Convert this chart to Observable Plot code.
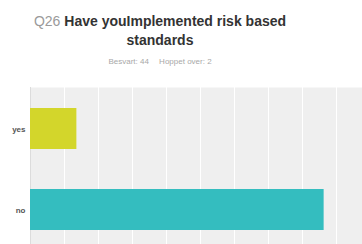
<!DOCTYPE html>
<html>
<head>
<meta charset="utf-8">
<script src="https://cdn.jsdelivr.net/npm/d3@7"></script>
<script src="https://cdn.jsdelivr.net/npm/@observablehq/plot@0.6"></script>
<style>
  html, body { margin: 0; padding: 0; background: #fff; overflow: hidden; width: 362px; height: 244px; }
  #wrap { position: relative; width: 362px; height: 244px; overflow: hidden; font-family: "Liberation Sans", Arial, sans-serif; }
  #title { position: absolute; left: 0; top: 12px; width: 320px; text-align: center; font-size: 14px; line-height: 19px; font-weight: bold; color: #333; }
  #title .q { color: #9a9a9a; font-weight: normal; }
  #sub { position: absolute; left: 0; top: 57px; width: 320px; text-align: center; font-size: 8px; color: #a8a8a8; }
  #sub span { margin: 0 4px; }
  #chart { position: absolute; left: 0; top: 80px; width: 370px; }
  #chart svg { max-width: none !important; }
</style>
</head>
<body>
<div id="wrap">
  <div id="title"><span class="q">Q26</span> Have youImplemented risk based<br>standards</div>
  <div id="sub"><span>Besvart: 44</span> <span>Hoppet over: 2</span></div>
  <div id="chart"></div>
</div>
<script>
const categories = ["yes", "no"];
const percents = [13.64, 86.36];
const colors = ["#d3d62b", "#34bdbf"];
const gridTicks = [0, 10, 20, 30, 40, 50, 60, 70, 80, 90, 100];

const data = categories.map((c, i) => ({answer: c, pct: percents[i], color: colors[i]}));

const chart = Plot.plot({
  width: 370,
  height: 170,
  marginTop: 7,
  marginBottom: 0,
  marginLeft: 30,
  marginRight: 0,
  style: {fontFamily: "Liberation Sans, Arial, sans-serif", background: "transparent", overflow: "visible", maxWidth: "none"},
  x: {domain: [0, 100], axis: null},
  y: {domain: categories, paddingInner: 0.5, paddingOuter: 0.25, label: null},
  marks: [
    Plot.frame({fill: "#efefef", stroke: null}),
    Plot.ruleX(gridTicks.slice(1), {stroke: "#ffffff", strokeWidth: 1, strokeOpacity: 1}),
    Plot.ruleX([0], {stroke: "#dcdcdc", strokeWidth: 1}),
    Plot.barX(data, {y: "answer", x: "pct", fill: "color"}),
    Plot.axisY({tickSize: 0, tickPadding: 5, fontSize: 8, fontWeight: "bold", fill: "#555", label: null})
  ]
});
document.getElementById("chart").appendChild(chart);
</script>
</body>
</html>
